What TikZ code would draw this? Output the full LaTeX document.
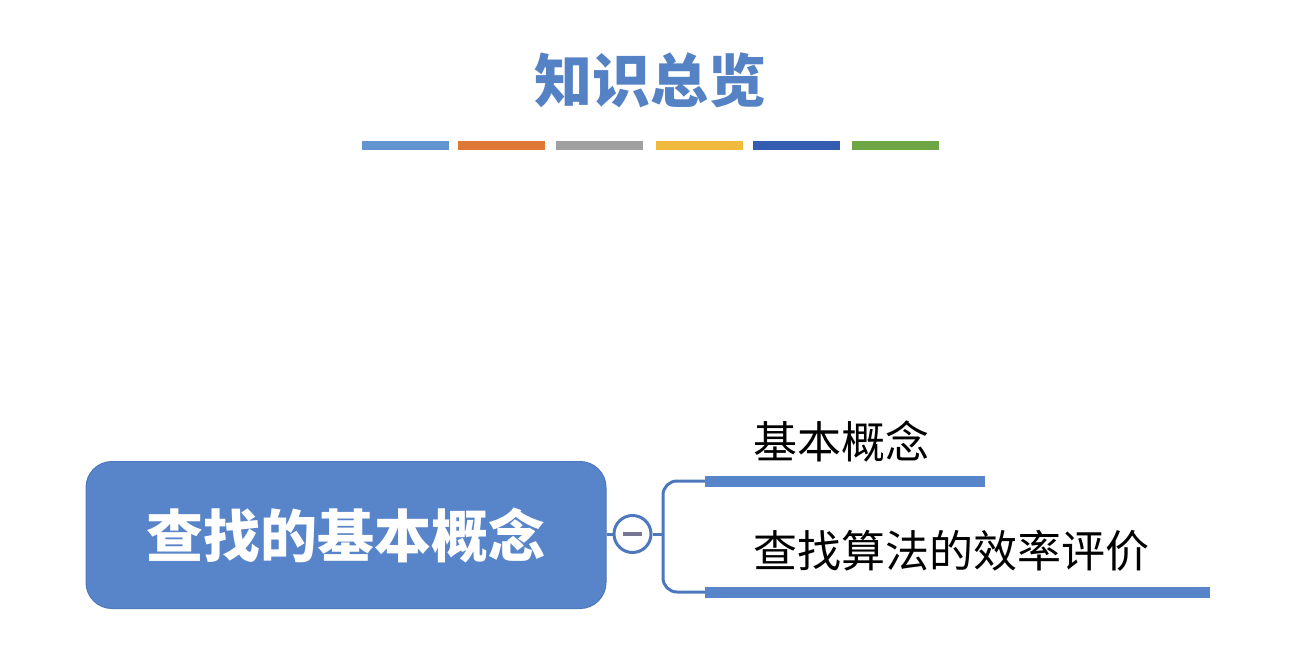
\documentclass[tikz,border=0pt]{standalone}
\usepackage{fontspec}
\newfontfamily\cjk{Noto Sans CJK SC}
\definecolor{titleblue}{RGB}{84,130,196}
\definecolor{boxblue}{RGB}{88,132,202}
\definecolor{lineblue}{RGB}{78,120,190}
\definecolor{minusgray}{RGB}{120,120,150}
\definecolor{c1}{RGB}{98,148,208}
\definecolor{c2}{RGB}{222,120,52}
\definecolor{c3}{RGB}{160,160,160}
\definecolor{c4}{RGB}{240,186,60}
\definecolor{c5}{RGB}{52,92,176}
\definecolor{c6}{RGB}{110,166,70}
\tikzset{
  colbar/.style={rectangle, minimum width=87pt, minimum height=9pt, inner sep=0pt},
  branchbar/.style={rectangle, fill=boxblue, minimum height=11pt, inner sep=0pt, anchor=west},
  branchtext/.style={font=\cjk\fontsize{44}{48}\selectfont, text=black, anchor=south west, inner sep=0pt},
  conn/.style={draw=lineblue, line width=3pt},
}
\begin{document}
\begin{tikzpicture}[x=1pt,y=-1pt]
\useasboundingbox[fill=white] (0,0) rectangle (1298,664);
\node[font=\cjk\bfseries\fontsize{58}{62}\selectfont, text=titleblue] (title) at (650,80) {知识总览};
\node[colbar, fill=c1] (b1) at (405,145) {};
\node[colbar, fill=c2] (b2) at (501,145) {};
\node[colbar, fill=c3] (b3) at (599,145) {};
\node[colbar, fill=c4] (b4) at (699,145) {};
\node[colbar, fill=c5] (b5) at (796,145) {};
\node[colbar, fill=c6] (b6) at (895,145) {};
\node[rectangle, rounded corners=26pt, fill=boxblue, draw=lineblue, line width=1pt, minimum width=520pt, minimum height=147pt, inner sep=0pt, font=\cjk\bfseries\fontsize{57}{60}\selectfont, text=white] (root) at (346,535) {查找的基本概念};
\node[circle, draw=lineblue, line width=3pt, fill=white, minimum size=37pt, inner sep=0pt] (tog) at (632.5,534) {};
\draw[line width=3.5pt, draw=minusgray] (623,534) -- (642,534);
\node[branchbar, minimum width=280pt] (bar1) at (705,481) {};
\node[branchbar, minimum width=505pt] (bar2) at (705,592) {};
\coordinate (fork) at (663,534);
\draw[conn] (root.east |- tog.west) -- (tog.west);
\draw[conn] (tog.east) -- (fork);
\draw[conn, rounded corners=14pt] (fork) |- (bar1.west);
\draw[conn, rounded corners=14pt] (fork) |- (bar2.west);
\node[branchtext] (t1) at (753,462) {基本概念};
\node[branchtext] (t2) at (753,572) {查找算法的效率评价};
\end{tikzpicture}
\end{document}
